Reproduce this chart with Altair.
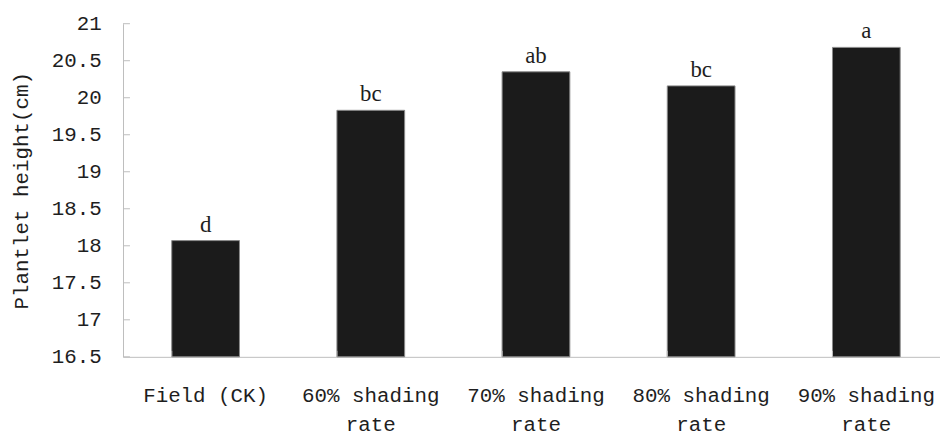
import altair as alt
import pandas as pd

categories = ["Field (CK)", "60% shading rate", "70% shading rate", "80% shading rate", "90% shading rate"]
heights = [18.07, 19.83, 20.35, 20.16, 20.68]
letters = ["d", "bc", "ab", "bc", "a"]
y_ticks = [16.5, 17, 17.5, 18, 18.5, 19, 19.5, 20, 20.5, 21]
y_base = 16.5

W, H = 822, 336
MONO = "Liberation Mono"
TXT = "#1e1e1e"
AX = "#bdbdbd"

df = pd.DataFrame({"cat": categories, "height": heights, "letter": letters})
ticks_df = pd.DataFrame({"v": y_ticks})

xscale = alt.Scale(domain=categories, range=[0, 833], paddingInner=0.59, paddingOuter=0.295)
yscale = alt.Scale(domain=[16.5, 21], zero=False, nice=False)

x_axis = alt.Axis(
    title=None, labelAngle=0, ticks=False, domainColor=AX, domainWidth=1,
    labelFont=MONO, labelFontSize=21, labelColor=TXT, labelPadding=28,
    labelLineHeight=29, labelBaseline="top", labelOverlap=False, labelLimit=300,
    labelExpr="split(replace(datum.label, ' shading rate', ' shading|rate'), '|')",
)
y_axis = alt.Axis(
    values=y_ticks, format="~g", ticks=False, grid=False, domainColor=AX, domainWidth=1,
    labelFont=MONO, labelFontSize=21, labelColor=TXT, labelPadding=22,
    labelBaseline="middle", labelOverlap=False, labelBound=False,
    title="Plantlet height(cm)", titleFont=MONO, titleFontSize=21,
    titleFontWeight="normal", titleColor=TXT, titleX=-102, titleY=H / 2,
    titleAngle=270, titleAlign="center", titleBaseline="middle",
)

bars = alt.Chart(df).mark_bar(fill="#1b1b1b", stroke="#8a8a8a", strokeWidth=1).encode(
    x=alt.X("cat:N", sort=categories, scale=xscale, axis=x_axis),
    y=alt.Y("height:Q", scale=yscale, axis=y_axis),
    y2=alt.datum(y_base),
)

labels = alt.Chart(df).mark_text(
    font="Liberation Serif", fontSize=23, color=TXT, baseline="alphabetic", dy=-9
).encode(
    x=alt.X("cat:N", sort=categories, scale=xscale, axis=x_axis),
    y=alt.Y("height:Q", scale=yscale, axis=y_axis),
    text="letter:N",
)

yticks = alt.Chart(ticks_df).mark_rule(color=AX, strokeWidth=1).encode(
    y=alt.Y("v:Q", scale=yscale, axis=y_axis),
    x=alt.value(0), x2=alt.value(7),
)

xticks = alt.Chart(df).mark_rule(color=AX, strokeWidth=1).encode(
    x=alt.X("cat:N", sort=categories, scale=xscale, axis=x_axis, bandPosition=0),
    y=alt.value(H - 6), y2=alt.value(H),
)

chart = alt.layer(bars, yticks, xticks, labels).properties(
    width=W, height=H,
    autosize=alt.AutoSizeParams(type="none"),
    padding={"left": 116, "top": 14, "right": 2, "bottom": 77},
    background="white",
).configure_view(stroke=None)

chart.save("out.html", embed_options={"renderer": "svg", "actions": False})
